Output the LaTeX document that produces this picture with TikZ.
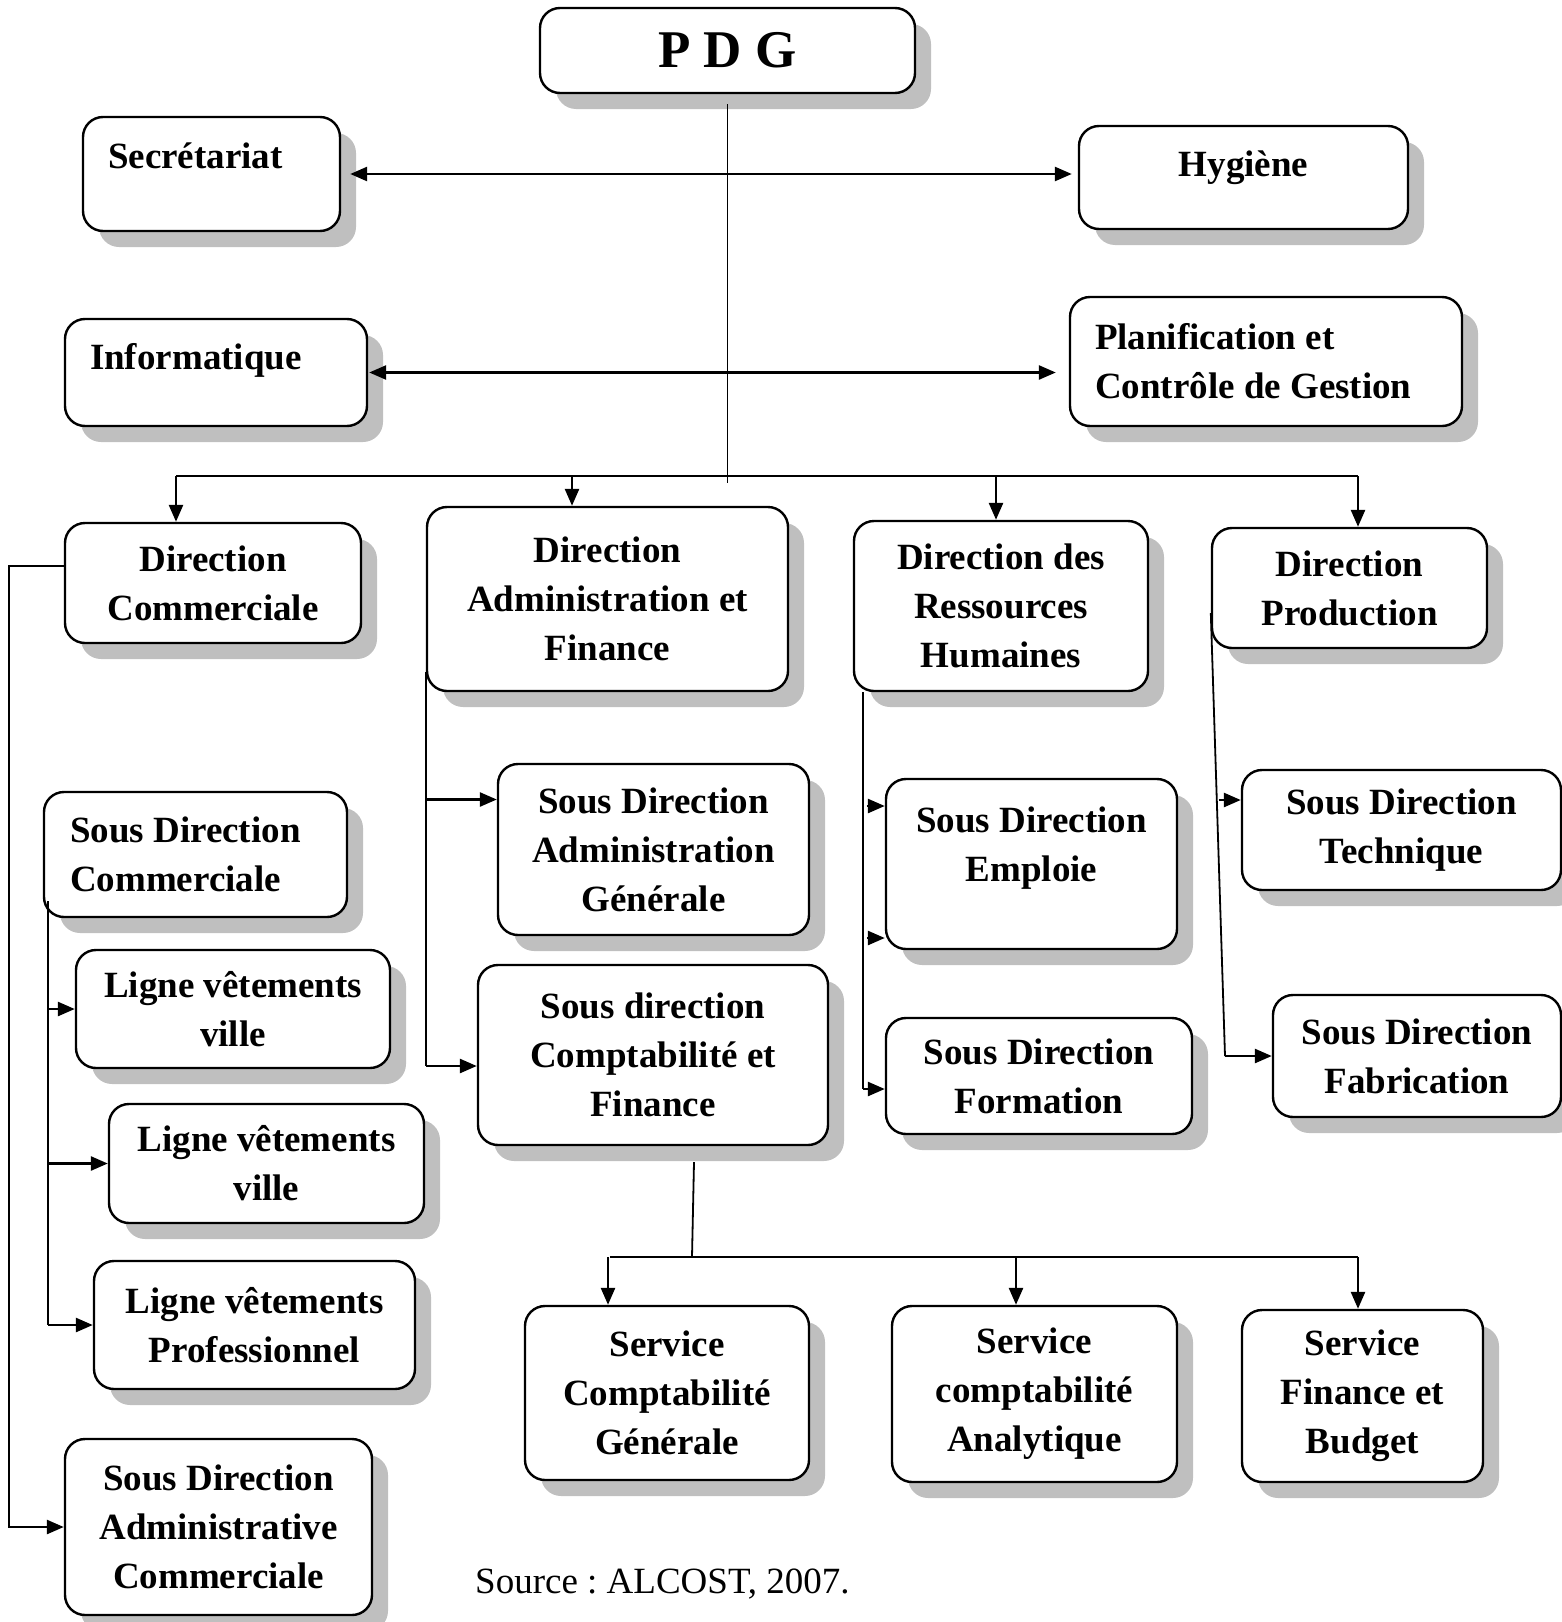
\documentclass[tikz,border=0pt]{standalone}
\usepackage{fontspec}
\setmainfont{Liberation Serif}
\usetikzlibrary{arrows.meta,shadows}

\tikzset{
  unit/.style={draw, line width=2.4pt, rounded corners=20pt, fill=white,
    align=center, inner sep=0pt,
    font=\fontsize{37}{49}\selectfont\bfseries,
    drop shadow={shadow xshift=16pt, shadow yshift=-16pt, fill=black!25, opacity=1}},
  link/.style={line width=2.6pt},
  thinlink/.style={line width=1.8pt},
  arr/.style={link, -{Triangle[length=17pt,width=14pt]}},
  darr/.style={link, {Triangle[length=17pt,width=14pt]}-{Triangle[length=17pt,width=14pt]}}
}

\begin{document}
\begin{tikzpicture}[x=1pt,y=-1pt]
  \useasboundingbox (0,0) rectangle (1562,1622);

  % top
  \node[unit, minimum width=375pt, minimum height=85pt,
        font=\fontsize{53}{60}\selectfont\bfseries] (pdg) at (727.5,50.5) {P D G};
  \node[unit, minimum width=257pt, minimum height=114pt, text width=207pt, align=flush left,
        text height=25pt, text depth=37pt] (secr) at (211.5,174) {Secrétariat};
  \node[unit, minimum width=329pt, minimum height=103pt,
        text height=25pt, text depth=28pt] (hyg) at (1243.5,177.5) {Hygiène};
  \node[unit, minimum width=302pt, minimum height=107pt, text width=252pt, align=flush left,
        text height=25pt, text depth=32pt] (info) at (216,372.5) {Informatique};
  \node[unit, minimum width=392pt, minimum height=129pt, text width=342pt, align=flush left]
        (plan) at (1266,361.5) {Planification et\\Contrôle de Gestion};

  % directions
  \node[unit, minimum width=296pt, minimum height=120pt] (dc) at (213,583) {Direction\\Commerciale};
  \node[unit, minimum width=361pt, minimum height=184pt] (daf) at (607.5,599) {Direction\\Administration et\\Finance};
  \node[unit, minimum width=294pt, minimum height=170pt] (drh) at (1001,606) {Direction des\\Ressources\\Humaines};
  \node[unit, minimum width=275pt, minimum height=120pt] (dp) at (1349.5,588) {Direction\\Production};

  % commercial
  \node[unit, minimum width=303pt, minimum height=125pt, text width=251pt, align=flush left]
        (sdc) at (195.5,854.5) {Sous Direction\\Commerciale};
  \node[unit, minimum width=314pt, minimum height=118pt] (lv1) at (233,1009) {Ligne vêtements\\ville};
  \node[unit, minimum width=315pt, minimum height=119pt] (lv2) at (266.5,1163.5) {Ligne vêtements\\ville};
  \node[unit, minimum width=321pt, minimum height=128pt] (lvp) at (254.5,1325) {Ligne vêtements\\Professionnel};
  \node[unit, minimum width=307pt, minimum height=176pt] (sdac) at (218.5,1527) {Sous Direction\\Administrative\\Commerciale};

  % administration et finance
  \node[unit, minimum width=311pt, minimum height=171pt] (sdag) at (653.5,849.5) {Sous Direction\\Administration\\Générale};
  \node[unit, minimum width=350pt, minimum height=180pt] (sdcf) at (653,1055) {Sous direction\\Comptabilité et\\Finance};
  \node[unit, minimum width=284pt, minimum height=174pt] (scg) at (667,1393) {Service\\Comptabilité\\Générale};
  \node[unit, minimum width=285pt, minimum height=176pt] (sca) at (1034.5,1394) {Service\\comptabilité\\Analytique};
  \node[unit, minimum width=241pt, minimum height=172pt] (sfb) at (1362.5,1396) {Service\\Finance et\\Budget};

  % ressources humaines
  \node[unit, minimum width=291pt, minimum height=170pt,
        text height=44pt, text depth=10pt] (sde) at (1031.5,864) {Sous Direction\\Emploie};
  \node[unit, minimum width=306pt, minimum height=116pt] (sdf) at (1039,1076) {Sous Direction\\Formation};

  % production
  \node[unit, minimum width=319pt, minimum height=120pt] (stech) at (1401.5,830) {Sous Direction\\Technique};
  \node[unit, minimum width=288pt, minimum height=122pt] (sfab) at (1417,1056) {Sous Direction\\Fabrication};

  \node[anchor=base west, inner sep=0pt, font=\fontsize{37}{44}\selectfont\frenchspacing]
        (src) at (475,1593) {Source : ALCOST, 2007.};

  % links from the top
  \draw[darr, shorten <=9pt, shorten >=6pt] (secr.east) -- (hyg.west |- secr.east);
  \draw[darr, shorten <=1pt, shorten >=13pt] (info.east) -- (plan.west |- info.east);
  \coordinate (hub) at (729,483);
  \draw[thinlink] ([yshift=-10pt]pdg.south) -- (pdg.south |- hub);
  \coordinate (busl) at (176,476);
  \coordinate (busr) at (1358,476);
  \draw[link] (busl) -- (busr);
  \foreach \x/\n in {176/dc, 572/daf, 996/drh, 1358/dp}
  {
    \coordinate (t) at (\x,476);
    \draw[arr] (t) -- (t |- \n.north);
  }

  % commercial
  \draw[arr] ([yshift=17pt]dc.west) -| ([xshift=-55pt]sdac.west) -- (sdac.west);
  \coordinate (sdcx) at ([xshift=5pt,yshift=17pt]sdc.south west);
  \draw[link] (sdcx) -- (sdcx |- lvp.west);
  \foreach \n in {lv1, lv2, lvp}
    \draw[arr] (sdcx |- \n.west) -- (\n.west);

  % administration et finance
  \coordinate (dafx) at ([yshift=20pt]daf.south west);
  \coordinate (a1) at ([yshift=50pt]sdag.west);
  \coordinate (a2) at ([yshift=-11pt]sdcf.west);
  \draw[link] (dafx) -- (dafx |- a2);
  \draw[arr] (dafx |- a1) -- (a1);
  \draw[arr] (dafx |- a2) -- (a2);
  \coordinate (svc) at (692,1257);
  \draw[thinlink] ([xshift=41pt,yshift=-16pt]sdcf.south) -- (svc);
  \coordinate (sbl) at (610,1257);
  \coordinate (sbr) at (1358,1257);
  \draw[link] (sbl) -- (sbr);
  \foreach \x/\n in {608/scg, 1016/sca, 1358/sfb}
  {
    \coordinate (t) at (\x,1257);
    \draw[arr] (t) -- (t |- \n.north);
  }

  % ressources humaines
  \coordinate (drhx) at ([xshift=10pt]drh.south west);
  \coordinate (e1) at ([yshift=58pt]sde.west);
  \coordinate (e2) at ([yshift=-74pt]sde.west);
  \coordinate (e3) at ([yshift=-13pt]sdf.west);
  \draw[thinlink] (drhx) -- (drhx |- e3);
  \draw[arr] (drhx |- e3) -- (e3);
  \draw[arr] ([xshift=-18pt]e1) -- (e1);
  \draw[arr] ([xshift=-18pt]e2) -- (e2);

  % production
  \coordinate (dpa) at ([yshift=-25pt]dp.west);
  \coordinate (dpb) at (1225,1049);
  \coordinate (g1) at ([yshift=30pt]stech.west);
  \draw[thinlink] (dpa) -- (dpb |- sfab.west);
  \draw[arr] (dpb |- sfab.west) -- (sfab.west);
  \draw[arr] ([xshift=-22pt]g1) -- (g1);
\end{tikzpicture}
\end{document}
